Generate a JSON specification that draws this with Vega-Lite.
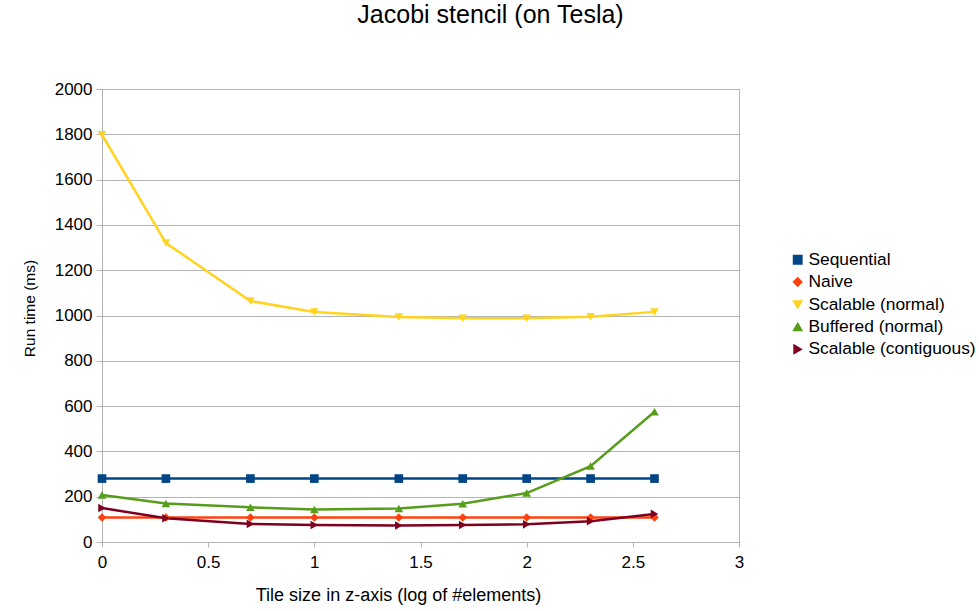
{
  "$schema": "https://vega.github.io/schema/vega-lite/v6.json",
  "width": 637,
  "height": 453,
  "autosize": {"type": "none"},
  "padding": {"left": 102, "top": 89, "right": 240, "bottom": 69},
  "background": "white",
  "config": {
    "font": "Liberation Sans",
    "view": {"stroke": "#b3b3b3", "strokeWidth": 1}
  },
  "title": {
    "text": "Jacobi stencil (on Tesla)",
    "fontSize": 25,
    "fontWeight": "normal",
    "font": "Liberation Sans",
    "color": "#000000",
    "anchor": "middle",
    "dx": 70,
    "offset": 52
  },
  "data": {
    "values": [
      {"x": 0, "series": "Sequential", "y": 280},
      {"x": 0.301, "series": "Sequential", "y": 280},
      {"x": 0.699, "series": "Sequential", "y": 280},
      {"x": 1, "series": "Sequential", "y": 280},
      {"x": 1.398, "series": "Sequential", "y": 280},
      {"x": 1.699, "series": "Sequential", "y": 280},
      {"x": 2, "series": "Sequential", "y": 280},
      {"x": 2.301, "series": "Sequential", "y": 280},
      {"x": 2.602, "series": "Sequential", "y": 280},
      {"x": 0, "series": "Naive", "y": 108},
      {"x": 0.301, "series": "Naive", "y": 108},
      {"x": 0.699, "series": "Naive", "y": 108},
      {"x": 1, "series": "Naive", "y": 108},
      {"x": 1.398, "series": "Naive", "y": 108},
      {"x": 1.699, "series": "Naive", "y": 108},
      {"x": 2, "series": "Naive", "y": 108},
      {"x": 2.301, "series": "Naive", "y": 108},
      {"x": 2.602, "series": "Naive", "y": 108},
      {"x": 0, "series": "Scalable (normal)", "y": 1798},
      {"x": 0.301, "series": "Scalable (normal)", "y": 1320},
      {"x": 0.699, "series": "Scalable (normal)", "y": 1064},
      {"x": 1, "series": "Scalable (normal)", "y": 1015},
      {"x": 1.398, "series": "Scalable (normal)", "y": 993},
      {"x": 1.699, "series": "Scalable (normal)", "y": 988},
      {"x": 2, "series": "Scalable (normal)", "y": 988},
      {"x": 2.301, "series": "Scalable (normal)", "y": 994},
      {"x": 2.602, "series": "Scalable (normal)", "y": 1016},
      {"x": 0, "series": "Buffered (normal)", "y": 207},
      {"x": 0.301, "series": "Buffered (normal)", "y": 170},
      {"x": 0.699, "series": "Buffered (normal)", "y": 153},
      {"x": 1, "series": "Buffered (normal)", "y": 143},
      {"x": 1.398, "series": "Buffered (normal)", "y": 148},
      {"x": 1.699, "series": "Buffered (normal)", "y": 169},
      {"x": 2, "series": "Buffered (normal)", "y": 216},
      {"x": 2.301, "series": "Buffered (normal)", "y": 335},
      {"x": 2.602, "series": "Buffered (normal)", "y": 575},
      {"x": 0, "series": "Scalable (contiguous)", "y": 150},
      {"x": 0.301, "series": "Scalable (contiguous)", "y": 105},
      {"x": 0.699, "series": "Scalable (contiguous)", "y": 80},
      {"x": 1, "series": "Scalable (contiguous)", "y": 75},
      {"x": 1.398, "series": "Scalable (contiguous)", "y": 73},
      {"x": 1.699, "series": "Scalable (contiguous)", "y": 75},
      {"x": 2, "series": "Scalable (contiguous)", "y": 78},
      {"x": 2.301, "series": "Scalable (contiguous)", "y": 92},
      {"x": 2.602, "series": "Scalable (contiguous)", "y": 124}
    ]
  },
  "encoding": {
    "x": {
      "field": "x",
      "type": "quantitative",
      "scale": {"domain": [0, 3], "nice": false, "zero": false},
      "axis": {
        "title": "Tile size in z-axis (log of #elements)",
        "titleFontSize": 18,
        "titleFontWeight": "normal",
        "titleColor": "#000",
        "titleX": 296,
        "titleAlign": "center",
        "titlePadding": 16,
        "values": [0, 0.5, 1, 1.5, 2, 2.5, 3],
        "format": "~g",
        "labelFlush": false,
        "labelFontSize": 17,
        "labelColor": "#000",
        "labelPadding": 7,
        "grid": false,
        "domainColor": "#b3b3b3",
        "tickColor": "#b3b3b3",
        "tickSize": 5
      }
    },
    "y": {
      "field": "y",
      "type": "quantitative",
      "scale": {"domain": [0, 2000], "nice": false},
      "axis": {
        "title": "Run time (ms)",
        "titleFontSize": 15.5,
        "titleFontWeight": "normal",
        "titleColor": "#000",
        "titleY": 219,
        "titleAlign": "center",
        "titlePadding": 17,
        "values": [0, 200, 400, 600, 800, 1000, 1200, 1400, 1600, 1800, 2000],
        "format": "d",
        "labelFlush": false,
        "labelFontSize": 17,
        "labelColor": "#000",
        "labelPadding": 4,
        "grid": true,
        "gridColor": "#b3b3b3",
        "domainColor": "#b3b3b3",
        "tickColor": "#b3b3b3",
        "tickSize": 6
      }
    },
    "color": {
      "field": "series",
      "type": "nominal",
      "sort": ["Sequential", "Naive", "Scalable (normal)", "Buffered (normal)", "Scalable (contiguous)"],
      "scale": {
        "domain": ["Sequential", "Naive", "Scalable (normal)", "Buffered (normal)", "Scalable (contiguous)"],
        "range": ["#004586", "#ff420e", "#ffd320", "#579d1c", "#7e0021"]
      },
      "legend": {
        "title": null,
        "orient": "none",
        "legendX": 687,
        "legendY": 162,
        "labelFontSize": 17.4,
        "labelColor": "#000",
        "labelLimit": 300,
        "rowPadding": 3.4,
        "symbolSize": 70,
        "symbolOpacity": 1,
        "labelOffset": 2
      }
    }
  },
  "layer": [
    {
      "mark": {"type": "line", "strokeWidth": 2.5}
    },
    {
      "mark": {"type": "point", "filled": true, "opacity": 1, "size": 75},
      "encoding": {
        "shape": {
          "field": "series",
          "type": "nominal",
          "sort": ["Sequential", "Naive", "Scalable (normal)", "Buffered (normal)", "Scalable (contiguous)"],
          "scale": {
            "domain": ["Sequential", "Naive", "Scalable (normal)", "Buffered (normal)", "Scalable (contiguous)"],
            "range": ["square", "diamond", "triangle-down", "triangle-up", "triangle-right"]
          },
          "legend": {
            "title": null,
            "orient": "none",
            "legendX": 687,
            "legendY": 162,
            "labelFontSize": 17.4,
            "labelColor": "#000",
            "labelLimit": 300,
            "rowPadding": 3.4,
            "symbolSize": 70,
            "symbolOpacity": 1,
            "labelOffset": 2
          }
        }
      }
    }
  ]
}
